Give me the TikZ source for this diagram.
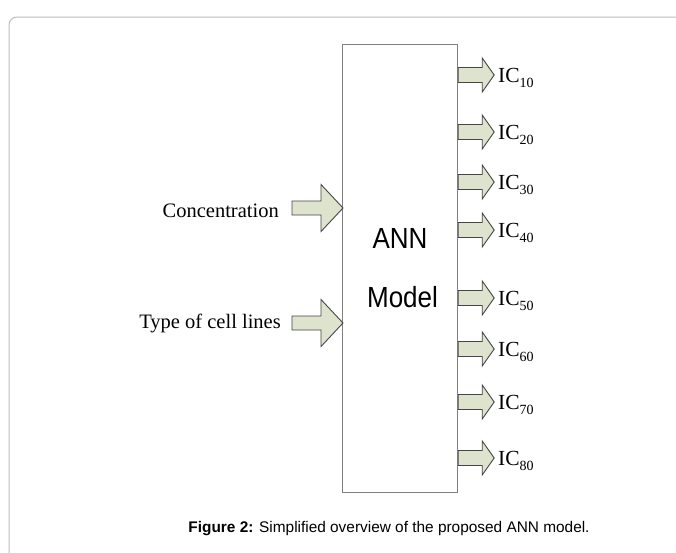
\documentclass[tikz,border=0pt]{standalone}
\usepackage{fontspec}
\setmainfont{Liberation Serif}
\setsansfont{Liberation Sans}
\definecolor{arrfill}{RGB}{221,227,205}
\definecolor{arrdraw}{RGB}{70,70,70}
\definecolor{boxdraw}{RGB}{128,128,128}
\definecolor{framegray}{RGB}{190,190,190}
\tikzset{
  blockarrow/.style={draw=arrdraw, fill=arrfill, line width=0.9pt, line join=miter},
  pics/inarrow/.style={code={
    \draw[blockarrow] (0,-7) -- (29,-7) -- (29,-23.5) -- (51,0) -- (29,23.5) -- (29,7) -- (0,7) -- cycle;}},
  pics/outarrow/.style={code={
    \draw[blockarrow] (0,-7.5) -- (24,-7.5) -- (24,-17) -- (36,0) -- (24,17) -- (24,7.5) -- (0,7.5) -- cycle;}},
  inlabel/.style={anchor=base east, inner sep=0pt, font=\fontsize{20.5}{24}\selectfont},
  outlabel/.style={anchor=base west, inner sep=0pt, font=\fontsize{21.5}{24}\selectfont},
  modeltext/.style={inner sep=0pt, font=\sffamily\fontsize{26}{30}\selectfont},
}
\newcommand{\icsub}[1]{IC{\fontsize{14}{16}\selectfont\raisebox{-5pt}{#1}}}
\begin{document}
\begin{tikzpicture}[x=1pt,y=-1pt]
\useasboundingbox (0,0) rectangle (676,552);
\clip (0,0) rectangle (676,552);
\fill[white] (0,0) rectangle (676,552);
\draw[framegray, line width=1pt, rounded corners=8pt] (9,17) rectangle (720,600);
% model box
\node[draw=boxdraw, line width=1.2pt, minimum width=115pt, minimum height=448pt, inner sep=0pt, anchor=north west] (box) at (342,44) {};
\node[modeltext, anchor=base] (ann) at (400,248) {\scalebox{1}[1.12]{ANN}};
\node[modeltext, anchor=base] (model) at (402.5,307) {\scalebox{1}[1.12]{Model}};
% inputs
\coordinate (in1) at (292,208);
\coordinate (in2) at (292,323);
\pic at (in1) {inarrow};
\pic at (in2) {inarrow};
\node[inlabel] (conc) at (279,217) {Concentration};
\node[inlabel] (type) at (281,328) {Type of cell lines};
% outputs
\foreach \y/\n [count=\i] in {75/10,132/20,182/30,230/40,298/50,349/60,402/70,458/80}{
  \coordinate (out\i) at (box.east |- 0,\y);
  \pic at (out\i) {outarrow};
  \node[outlabel] (ic\i) at (498,\y+7) {\icsub{\n}};
}
% caption
\node[inner sep=0pt, font=\sffamily\fontsize{15.4}{19}\selectfont] (caption) at (389,529) {\textbf{Figure 2:} Simplified overview of the proposed ANN model.};
\end{tikzpicture}
\end{document}
